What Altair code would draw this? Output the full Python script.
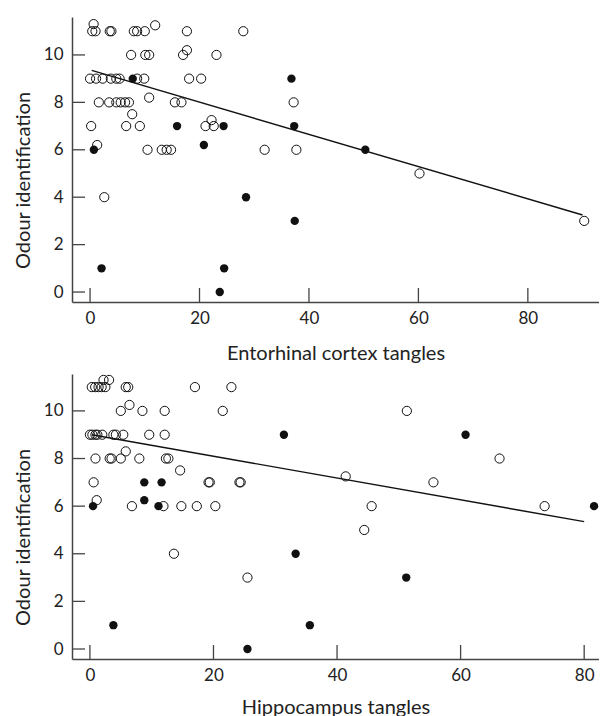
import altair as alt
import pandas as pd

# ---------------- Top panel: Entorhinal cortex tangles ----------------
ent_open_x = [0.65, 11.9,
              0.4, 1.0, 3.6, 3.9, 8.0, 8.6, 10.0, 17.7, 28.0,
              17.7,
              7.5, 10.1, 10.8, 17.0, 23.1,
              0.0, 1.1, 2.3, 3.8, 4.8, 5.4, 8.6, 9.9, 18.1, 20.3,
              10.8,
              1.6, 3.5, 4.8, 5.6, 6.4, 7.1, 15.5, 16.7, 37.2,
              7.7,
              22.2,
              0.2, 6.6, 9.1, 21.1, 22.6,
              1.3,
              10.5, 13.1, 14.0, 14.8, 31.9, 37.7,
              60.2,
              2.6,
              90.3]
ent_open_y = [11.3, 11.25,
              11, 11, 11, 11, 11, 11, 11, 11, 11,
              10.2,
              10, 10, 10, 10, 10,
              9, 9, 9, 9, 9, 9, 9, 9, 9, 9,
              8.2,
              8, 8, 8, 8, 8, 8, 8, 8, 8,
              7.5,
              7.25,
              7, 7, 7, 7, 7,
              6.2,
              6, 6, 6, 6, 6, 6,
              5,
              4,
              3]
ent_filled_x = [0.7, 2.1, 7.8, 15.9, 20.8, 23.7, 24.4, 24.5, 28.5, 36.8, 37.3, 37.4, 50.3]
ent_filled_y = [6, 1, 9, 7, 6.2, 0, 7, 1, 4, 9, 7, 3, 6]
ent_line_x = [0.3, 90.0]
ent_line_y = [9.35, 3.25]

# ---------------- Bottom panel: Hippocampus tangles ----------------
hip_open_x = [2.2, 3.1,
              0.3, 0.85, 1.4, 1.9, 2.5, 5.8, 6.2, 17.0, 22.9,
              6.4,
              5.0, 8.5, 12.1, 21.5, 51.3,
              0.0, 0.4, 0.9, 1.2, 2.0, 3.8, 4.2, 5.4, 9.6, 12.1,
              5.8,
              0.9, 3.2, 3.5, 5.0, 8.0, 12.3, 12.7, 66.3,
              14.6,
              41.4,
              0.6, 19.2, 19.4, 24.2, 24.4, 55.6,
              1.1,
              6.8, 11.9, 14.8, 17.3, 20.3, 45.6, 73.6,
              44.4,
              13.6,
              25.5]
hip_open_y = [11.3, 11.3,
              11, 11, 11, 11, 11, 11, 11, 11, 11,
              10.25,
              10, 10, 10, 10, 10,
              9, 9, 9, 9, 9, 9, 9, 9, 9, 9,
              8.3,
              8, 8, 8, 8, 8, 8, 8, 8,
              7.5,
              7.25,
              7, 7, 7, 7, 7, 7,
              6.25,
              6, 6, 6, 6, 6, 6, 6,
              5,
              4,
              3]
hip_filled_x = [0.5, 3.8, 8.8, 8.8, 11.1, 11.6, 25.5, 31.4, 33.3, 35.6, 51.2, 60.8, 81.6]
hip_filled_y = [6, 1, 7, 6.25, 6, 7, 0, 9, 4, 1, 3, 9, 6]
hip_line_x = [0.3, 80.0]
hip_line_y = [9.0, 5.35]

x_ticks = [0, 20, 40, 60, 80]
y_ticks = [0, 2, 4, 6, 8, 10]

Y_TITLE = "Odour identification"
W, H = 527, 285
INK = "#222222"
AXIS = "#444444"


def panel(open_x, open_y, fill_x, fill_y, line_x, line_y, xdom, ydom, xtitle, title_y):
    xs = alt.Scale(domain=xdom, nice=False, zero=False)
    ys = alt.Scale(domain=ydom, nice=False, zero=False)
    x_axis = alt.Axis(values=x_ticks, ticks=False, tickSize=0, grid=False,
                      domainColor=AXIS, domainWidth=1.5, labelPadding=8,
                      title=xtitle, titleY=title_y, titleBaseline="alphabetic")
    y_axis = alt.Axis(values=y_ticks, ticks=False, tickSize=0, grid=False,
                      domainColor=AXIS, domainWidth=1.5, labelPadding=9,
                      title=Y_TITLE, titleX=-42.7, titleY=163,
                      titleBaseline="alphabetic")

    df_open = pd.DataFrame({"x": open_x, "y": open_y})
    df_fill = pd.DataFrame({"x": fill_x, "y": fill_y})
    df_line = pd.DataFrame({"x": line_x, "y": line_y})
    df_xt = pd.DataFrame({"v": x_ticks})
    df_yt = pd.DataFrame({"v": y_ticks})

    X = alt.X("x:Q", scale=xs, axis=x_axis)
    Y = alt.Y("y:Q", scale=ys, axis=y_axis)

    open_pts = alt.Chart(df_open).mark_point(
        shape="circle", filled=False, stroke="#111111", strokeWidth=1, size=85, opacity=1
    ).encode(x=X, y=Y)
    fill_pts = alt.Chart(df_fill).mark_circle(
        color="#111111", size=70, opacity=1
    ).encode(x=X, y=Y)
    line = alt.Chart(df_line).mark_line(color="#111111", strokeWidth=1.4).encode(x=X, y=Y)
    yt = alt.Chart(df_yt).mark_rule(color=AXIS, strokeWidth=1.3).encode(
        y=alt.Y("v:Q", scale=ys, axis=y_axis),
        x=alt.value(0), x2=alt.value(13),
    )
    xt = alt.Chart(df_xt).mark_rule(color=AXIS, strokeWidth=1.3).encode(
        x=alt.X("v:Q", scale=xs, axis=x_axis),
        y=alt.value(H), y2=alt.value(H - 14),
    )
    return alt.layer(open_pts, fill_pts, line, yt, xt).properties(width=W, height=H)


top = panel(ent_open_x, ent_open_y, ent_filled_x, ent_filled_y, ent_line_x, ent_line_y,
            [-3.3, 93.0], [-0.42, 11.6], "Entorhinal cortex tangles", 57)
bottom = panel(hip_open_x, hip_open_y, hip_filled_x, hip_filled_y, hip_line_x, hip_line_y,
               [-2.9, 82.4], [-0.42, 11.55], "Hippocampus tangles", 54)

chart = alt.vconcat(top, bottom, spacing=10).properties(
    padding={"left": 5, "top": 9, "right": 0, "bottom": 0}
).configure_view(stroke=None).configure_axis(
    labelFont="Lato", titleFont="Lato", labelFontSize=17, titleFontSize=20,
    labelColor=INK, titleColor=INK, titleFontWeight="normal",
)

chart.save("out.html", embed_options={"renderer": "svg", "actions": False})
